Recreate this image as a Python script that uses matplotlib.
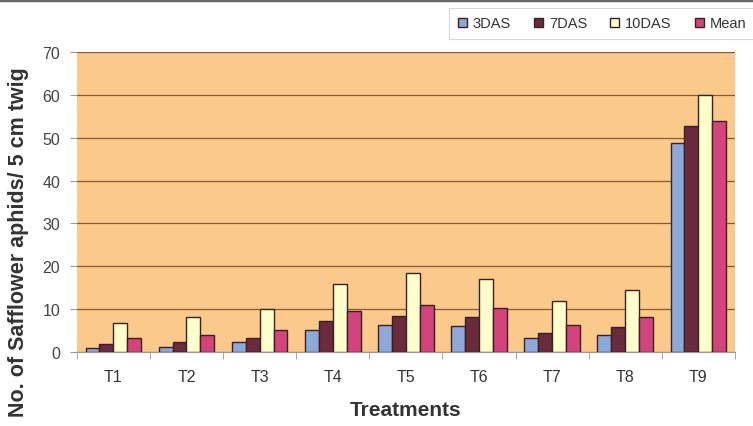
import numpy as np
import matplotlib as mpl
import matplotlib.pyplot as plt

mpl.rcParams.update({'font.family': ['Liberation Sans', 'DejaVu Sans']})

treatments = ["T1", "T2", "T3", "T4", "T5", "T6", "T7", "T8", "T9"]
das3 = [1.0, 1.2, 2.3, 5.1, 6.3, 6.0, 3.2, 4.1, 48.7]
das7 = [2.0, 2.4, 3.4, 7.3, 8.5, 8.1, 4.4, 5.8, 52.7]
das10 = [6.9, 8.1, 10.0, 15.9, 18.5, 17.0, 11.9, 14.5, 60.0]
mean = [3.4, 4.0, 5.1, 9.5, 11.0, 10.4, 6.4, 8.1, 54.0]

series = [("3DAS", das3, "#8fa8da"),
          ("7DAS", das7, "#6b2a3e"),
          ("10DAS", das10, "#ffffcc"),
          ("Mean", mean, "#d4447c")]


def main():
    fig = plt.figure(figsize=(7.53, 4.27), dpi=100)
    ax = fig.add_axes([0.102, 0.173, 0.874, 0.703])
    ax.set_facecolor("#fbc98c")

    x = np.arange(len(treatments))
    w = 0.19
    for i, (name, vals, col) in enumerate(series):
        ax.bar(x + (i - 1.5) * w, vals, w, color=col, edgecolor="#3a2020",
               linewidth=1.0, label=name, zorder=3)

    ax.set_xlim(-0.5, len(treatments) - 0.5)
    ax.set_ylim(0, 70)
    ax.set_yticks(range(0, 71, 10))
    ax.yaxis.grid(True, color="#8a5a30", linewidth=0.9, zorder=1)
    ax.set_xticks(x)
    ax.set_xticklabels(treatments)
    ax.set_xticks(np.arange(-0.5, len(treatments)), minor=True)
    ax.tick_params(axis='x', which='major', length=0, pad=12,
                   labelsize=11.5, labelcolor="#333333")
    ax.tick_params(axis='x', which='minor', length=5, color="#999999")
    ax.tick_params(axis='y', length=5, color="#999999", labelsize=11.5,
                   labelcolor="#444444", pad=7)

    for s in ["top", "right", "left"]:
        ax.spines[s].set_visible(False)
    ax.spines["bottom"].set_color("#999999")

    ax.set_xlabel("Treatments", fontsize=15, fontweight="bold", labelpad=12,
                  color="#333333")
    ax.set_ylabel("No. of Safflower aphids/ 5 cm twig", fontsize=15.5,
                  fontweight="bold", color="#333333")
    ax.yaxis.set_label_coords(-0.073, 0.37)

    leg = fig.legend(loc="upper right", bbox_to_anchor=(1.012, 0.997), ncol=4,
                     fontsize=10.5, frameon=True, fancybox=False,
                     handlelength=0.6, handleheight=0.6, handletextpad=0.4,
                     columnspacing=1.6, borderpad=0.6)
    leg.get_frame().set_edgecolor("#cccccc")
    leg.get_frame().set_linewidth(0.8)
    for t in leg.get_texts():
        t.set_color("#333333")

    fig.add_artist(plt.Line2D([0, 1], [0.997, 0.997], color="#666666",
                              linewidth=2.5, transform=fig.transFigure))

    fig.savefig("out.png", dpi=100)
    plt.close(fig)


if __name__ == '__main__':
    main()
